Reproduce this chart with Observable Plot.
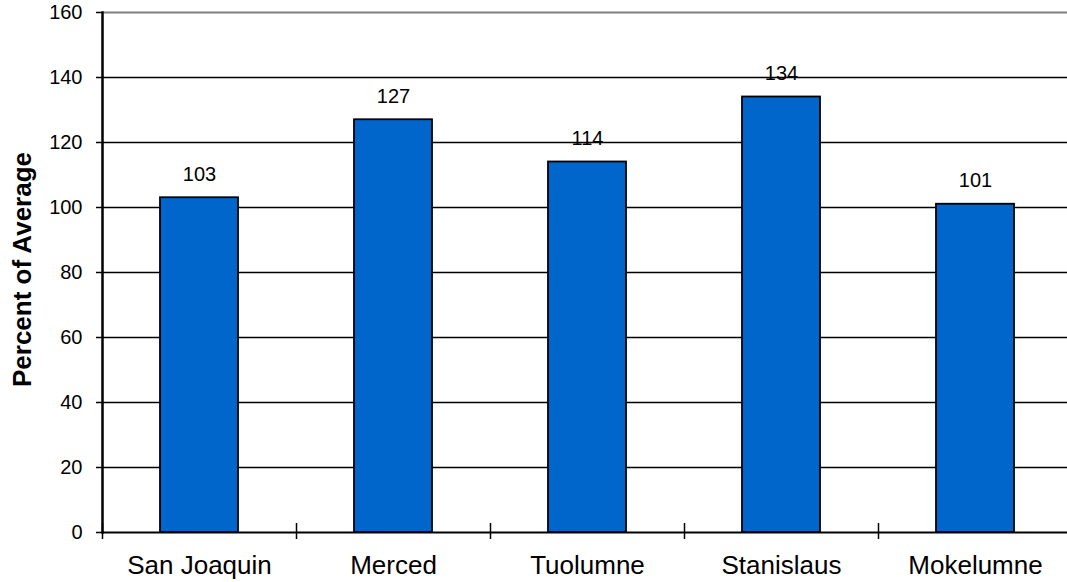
<!DOCTYPE html>
<html><head><meta charset="utf-8">
<script src="https://cdn.jsdelivr.net/npm/d3@7"></script>
<script src="https://cdn.jsdelivr.net/npm/@observablehq/plot@0.6"></script>
<style>body{margin:0;background:#fff} svg{display:block}</style>
</head><body><div id="chart"></div>
<script>
// River basins and their flow as a percent of average
const rivers = ["San Joaquin", "Merced", "Tuolumne", "Stanislaus", "Mokelumne"];
const percentOfAverage = [103, 127, 114, 134, 101];
const yTicks = [0, 20, 40, 60, 80, 100, 120, 140, 160];
const yTitle = "Percent of Average";

const data = rivers.map((river, i) => ({river, pct: percentOfAverage[i]}));
const xRange = [102, 1072];
const step = (xRange[1] - xRange[0]) / rivers.length;

const chart = Plot.plot({
  width: 1067, height: 582,
  marginLeft: 102, marginRight: 0, marginTop: 12, marginBottom: 50,
  style: {fontFamily: "'Liberation Sans', Arial, sans-serif", color: "#000", background: "#fff"},
  x: {domain: rivers, range: xRange, paddingInner: 0.6, paddingOuter: 0.3, axis: null},
  y: {domain: [0, 160], axis: null},
  marks: [
    // horizontal gridlines; the top one is grey
    Plot.ruleY(yTicks.filter(t => t > 0 && t < 160), {stroke: "#000", strokeWidth: 1.5}),
    Plot.ruleY([160], {stroke: "#808080", strokeWidth: 2}),
    Plot.barY(data, {x: "river", y: "pct", fill: "#0066CC", stroke: "#000", strokeWidth: 1.8}),
    Plot.ruleY([0], {stroke: "#000", strokeWidth: 2}),
    Plot.frame({anchor: "left", stroke: "#000", strokeWidth: 2.5}),
    Plot.axisY({ticks: yTicks, tickSize: 6, tickPadding: 14, fontSize: 20, tickFormat: d => String(d), label: null, strokeWidth: 1.5}),
    Plot.axisX({tickSize: 0, tickPadding: 23, fontSize: 26, label: null}),
    // category separator ticks on the baseline
    Plot.axisX({tickSize: 16, dx: -step / 2, dy: -9, tickFormat: () => "", label: null, strokeWidth: 1.5}),
    Plot.text(data, {x: "river", y: "pct", text: d => String(d.pct), lineAnchor: "bottom", dy: -17, fontSize: 20}),
    Plot.text([yTitle], {frameAnchor: "left", textAnchor: "middle", rotate: -90, dx: -80, dy: -3, fontSize: 26, fontWeight: "bold"})
  ]
});
document.getElementById("chart").appendChild(chart);
</script>
</body></html>
